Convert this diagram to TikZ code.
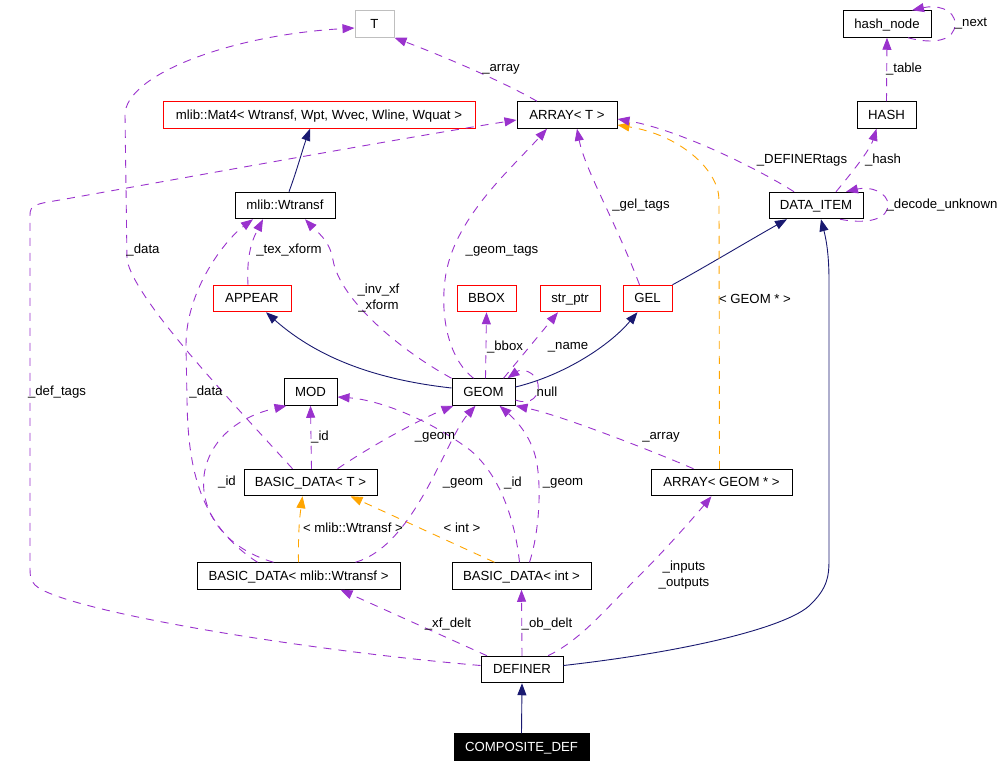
\documentclass[tikz,border=0pt]{standalone}
\usepackage{fontspec}
\setmainfont{Liberation Sans}
\usetikzlibrary{arrows.meta}

\definecolor{usecol}{HTML}{9A32CD}
\definecolor{inhcol}{HTML}{191970}
\definecolor{tplcol}{HTML}{FFA500}
\definecolor{tgray}{HTML}{BFBFBF}

\begin{document}
\begin{tikzpicture}[x=1pt,y=-1pt,
  cls/.style={draw,line width=1pt,minimum height=26.5pt,inner sep=0pt,text height=9.3pt,text depth=0.5pt,font=\fontsize{13.2}{16}\selectfont},
  lbl/.style={inner sep=0pt,align=center,font=\fontsize{13.2}{16}\selectfont},
  tip/.style={-{Triangle[length=12pt,width=9pt]}},
  use/.style={tip,draw=usecol,line width=0.9pt,dash pattern=on 8pt off 7pt},
  tpl/.style={tip,draw=tplcol,line width=0.9pt,dash pattern=on 8pt off 7pt},
  inh/.style={tip,draw=inhcol,line width=0.9pt}]
\useasboundingbox (0,0) rectangle (1005,765);

\node [cls,minimum width=39pt,draw=tgray] (T) at (374.5,24) {T};
\node [cls,minimum width=312pt,draw=red] (mat4) at (319,115) {mlib::Mat4< Wtransf, Wpt, Wvec, Wline, Wquat >};
\node [cls,minimum width=100pt] (wtransf) at (285,205.5) {mlib::Wtransf};
\node [cls,minimum width=100pt] (arrT) at (567,115) {ARRAY< T >};
\node [cls,minimum width=88pt] (hashnode) at (887,24) {hash\_node};
\node [cls,minimum width=59pt] (hash) at (886.5,115) {HASH};
\node [cls,minimum width=94pt] (dataitem) at (816,205.5) {DATA\_ITEM};
\node [cls,minimum width=78pt,draw=red] (appear) at (252,298.5) {APPEAR};
\node [cls,minimum width=59pt,draw=red] (bbox) at (486.5,298.5) {BBOX};
\node [cls,minimum width=60pt,draw=red] (strptr) at (570,298.5) {str\_ptr};
\node [cls,minimum width=49pt,draw=red] (gel) at (647.5,298.5) {GEL};
\node [cls,minimum width=53pt] (mod) at (310.5,392) {MOD};
\node [cls,minimum width=63pt] (geom) at (483.5,392) {GEOM};
\node [cls,minimum width=133pt] (bdT) at (310.5,482.5) {BASIC\_DATA< T >};
\node [cls,minimum width=141pt] (arrG) at (721.5,482.5) {ARRAY< GEOM * >};
\node [cls,minimum width=203pt] (bdW) at (298.5,576) {BASIC\_DATA< mlib::Wtransf >};
\node [cls,minimum width=139pt] (bdI) at (521.5,576) {BASIC\_DATA< int >};
\node [cls,minimum width=82pt] (definer) at (522,669.5) {DEFINER};
\node [cls,minimum width=135pt,fill=black,text=white] (composite) at (521.5,747) {COMPOSITE\_DEF};

% inheritance
\draw [inh] ([xshift=4pt]wtransf.north) .. controls (297,170) and (303,148) .. ([xshift=-9pt]mat4.south);
\draw [inh] ([yshift=4pt]geom.west) .. controls (380,380) and (320,360) .. ([xshift=14pt]appear.south);
\draw [inh] ([yshift=5pt]geom.east) .. controls (565,375) and (610,345) .. ([xshift=-10pt]gel.south);
\draw [inh] (gel.north east) .. controls (700,270) and (750,240) .. ([xshift=-29pt]dataitem.south);
\draw [inh] ([yshift=4pt]definer.east) .. controls (700,650) and (790,625) .. (810,605)
  .. controls (828,588) and (829,575) .. (829,560) -- (829,280)
  .. controls (829,250) and (825,235) .. ([xshift=5pt]dataitem.south);
\draw [inh] (composite.north) -- (definer.south);

% templates
\draw [tpl] (bdW.north) .. controls (298,530) and (300,515) .. ([xshift=-8pt]bdT.south);
\draw [tpl] ([xshift=-27pt]bdI.north) -- ([xshift=40pt]bdT.south);
\draw [tpl] ([xshift=-2pt]arrG.north) -- (719,200) .. controls (719,170) and (680,135) .. ([yshift=-10pt]arrT.east);
\node [lbl] (lwt) at (353,528) {< mlib::Wtransf >};
\node [lbl] (lint) at (462,528) {< int >};
\node [lbl] (lgp) at (755,299) {< GEOM * >};

% members
\draw [use] ([xshift=-30pt]arrT.north) .. controls (500,80) and (440,55) .. (T.south east);
\draw [use] ([xshift=-18pt]bdT.north) .. controls (230,400) and (135,300) .. (127,260) -- (125,115)
  .. controls (125,75) and (230,35) .. ([yshift=-4pt]T.west);
\draw [use] ([xshift=-41pt]bdW.north) .. controls (200,525) and (188,470) .. (187,400) -- (186,345)
  .. controls (186,290) and (225,240) .. ([xshift=-32pt]wtransf.south);
\draw [use] ([xshift=-25pt]bdW.north) .. controls (180,535) and (180,430) .. ([xshift=-24pt]mod.south);
\draw [use] ([xshift=-4pt]appear.north) .. controls (246,250) and (255,235) .. ([xshift=-22pt]wtransf.south);
\draw [use] (geom.north west) .. controls (400,350) and (340,300) .. (333,260)
  .. controls (330,240) and (315,230) .. ([xshift=20pt]wtransf.south);
\draw [use] ([xshift=1pt]bdT.north) -- (mod.south);
\draw [use] ([xshift=27pt]bdT.north) .. controls (380,440) and (430,415) .. ([xshift=-30pt]geom.south);
\draw [use] ([xshift=57pt]bdW.north) .. controls (415,545) and (445,440) .. ([xshift=-8pt]geom.south);
\draw [use] ([xshift=-2pt]bdI.north) .. controls (515,520) and (500,475) .. (470,450)
  .. controls (430,420) and (380,400) .. ([yshift=-5pt]mod.east);
\draw [use] ([xshift=8pt]bdI.north) .. controls (540,530) and (542,480) .. (535,455)
  .. controls (528,430) and (510,415) .. ([xshift=16pt]geom.south);
\draw [use] ([xshift=-28pt]arrG.north) .. controls (650,450) and (560,415) .. (geom.south east);
\draw [use] ([yshift=-8pt]geom.east) .. controls (532,406) and (540,395) .. (538,384)
  .. controls (536,372) and (522,368) .. ([xshift=24pt]geom.north);
\draw [use] ([xshift=2pt]geom.north) -- (bbox.south);
\draw [use] ([xshift=20pt]geom.north) -- ([xshift=-12pt]strptr.south);
\draw [use] ([xshift=-10pt]geom.north) .. controls (450,360) and (440,320) .. (445,280)
  .. controls (452,220) and (510,170) .. ([xshift=-20pt]arrT.south);
\draw [use] ([xshift=-8pt]gel.north) .. controls (615,220) and (585,170) .. ([xshift=10pt]arrT.south);
\draw [use] ([xshift=-22pt]dataitem.north) .. controls (760,170) and (680,130) .. ([yshift=-4pt]arrT.east);
\draw [use] ([yshift=4pt]definer.west) .. controls (300,650) and (60,610) .. (35,585)
  .. controls (30,580) and (30,575) .. (30,565) -- (30,215)
  .. controls (30,205) and (35,204) .. (60,200) .. controls (200,175) and (420,135) .. ([yshift=-5pt]arrT.west);
\draw [use] ([xshift=-35pt]definer.north) -- ([xshift=42pt]bdW.south);
\draw [use] (definer.north) -- (bdI.south);
\draw [use] ([xshift=26pt]definer.north) .. controls (580,640) and (600,615) .. (640,575)
  .. controls (670,545) and (700,510) .. ([xshift=-10pt]arrG.south);
\draw [use] (hash.north) -- (hashnode.south);
\draw [use] ([xshift=21pt]hashnode.south) .. controls (935,45) and (955,40) .. (955,24)
  .. controls (955,8) and (935,5) .. ([xshift=25pt]hashnode.north);
\draw [use] ([xshift=20pt]dataitem.north) .. controls (850,175) and (870,150) .. ([xshift=-10pt]hash.south);
\draw [use] ([xshift=24pt]dataitem.south) .. controls (870,225) and (888,218) .. (888,205)
  .. controls (888,192) and (870,186) .. ([xshift=30pt]dataitem.north);

\node [lbl] (larray) at (501,69) {\_array};
\node [lbl] (ldata) at (143,250) {\_data};
\node [lbl] (ldata2) at (206,392) {\_data};
\node [lbl] (lid) at (227,482) {\_id};
\node [lbl] (ltex) at (289,250) {\_tex\_xform};
\node [lbl] (linv) at (378.5,298.5) {\_inv\_xf\\\_xform};
\node [lbl] (lid2) at (320,437) {\_id};
\node [lbl] (lgeom) at (435,437) {\_geom};
\node [lbl] (lgeom2) at (463,483) {\_geom};
\node [lbl] (lid3) at (513,483) {\_id};
\node [lbl] (lgeom3) at (563,483) {\_geom};
\node [lbl] (larray2) at (661,437) {\_array};
\node [lbl] (lnull) at (547,392) {null};
\node [lbl] (lbbox) at (505,347) {\_bbox};
\node [lbl] (lname) at (568,347) {\_name};
\node [lbl] (lgtags) at (502,251) {\_geom\_tags};
\node [lbl] (lgel) at (641,205) {\_gel\_tags};
\node [lbl] (ldef) at (802,160) {\_DEFINERtags};
\node [lbl] (ldeft) at (57,392) {\_def\_tags};
\node [lbl] (lxf) at (448,624) {\_xf\_delt};
\node [lbl] (lob) at (547,624) {\_ob\_delt};
\node [lbl] (lio) at (684,575) {\_inputs\\\_outputs};
\node [lbl] (ltable) at (904,69) {\_table};
\node [lbl] (lnext) at (971,24) {\_next};
\node [lbl] (lhash) at (883,160) {\_hash};
\node [lbl] (ldec) at (942,205) {\_decode\_unknown};
\end{tikzpicture}
\end{document}
